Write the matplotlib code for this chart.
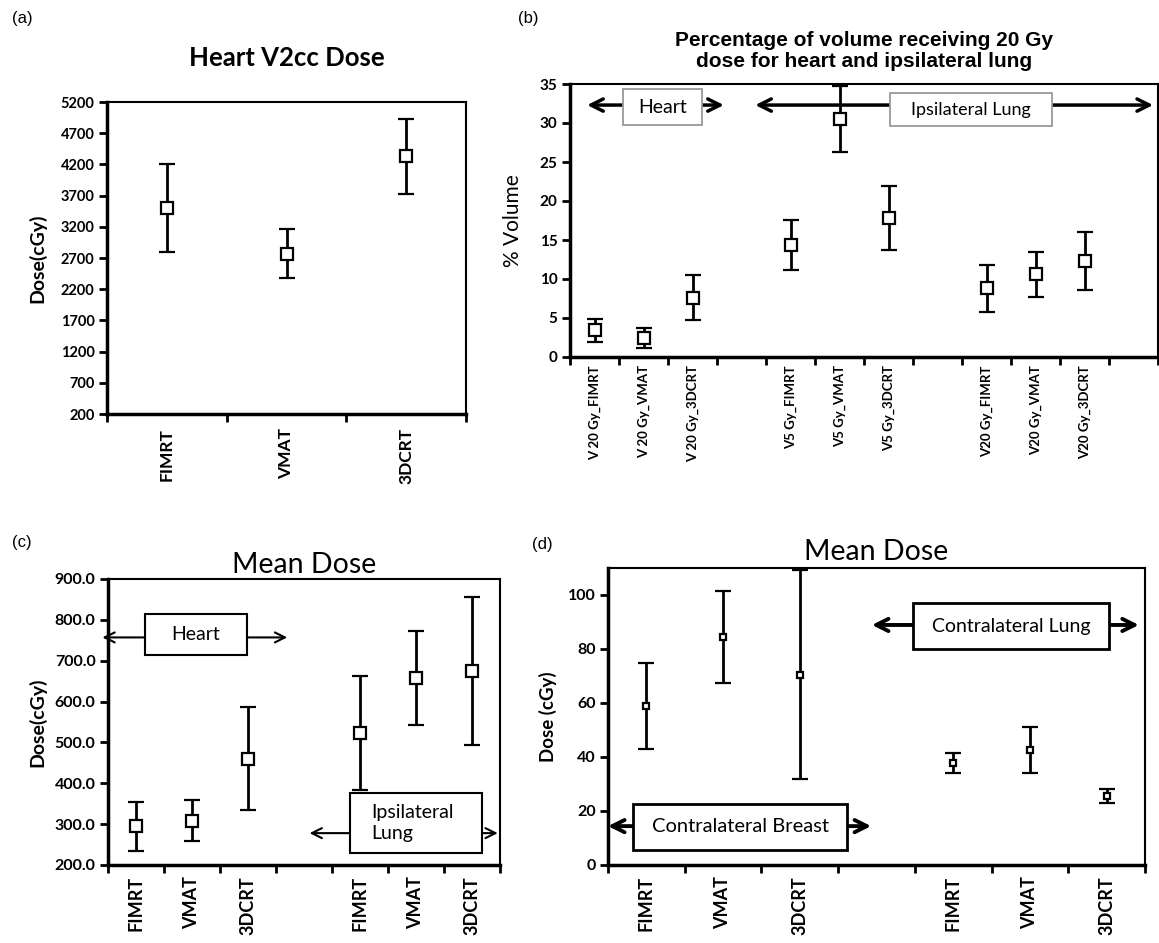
import numpy as np
import matplotlib
matplotlib.use('Agg')
import matplotlib.pyplot as plt
from matplotlib.patches import Rectangle

nan = np.nan

# (a) Heart V2cc dose
a_cats = ['FIMRT', 'VMAT', '3DCRT']
a_mean = [3500, 2770, 4330]
a_err = [700, 390, 605]

# (b) percentage volume
b_cats = ['V 20 Gy_FIMRT', 'V 20 Gy_VMAT', 'V 20 Gy_3DCRT', '',
          'V5 Gy_FIMRT', 'V5 Gy_VMAT', 'V5 Gy_3DCRT', '',
          'V20 Gy_FIMRT', 'V20 Gy_VMAT', 'V20 Gy_3DCRT', '']
b_mean = [3.4, 2.4, 7.6, nan, 14.3, 30.5, 17.8, nan, 8.8, 10.6, 12.3, nan]
b_err = [1.5, 1.3, 2.9, nan, 3.2, 4.2, 4.1, nan, 3.0, 2.9, 3.7, nan]

# (c) mean dose heart / ipsilateral lung
c_cats = ['FIMRT', 'VMAT', '3DCRT', '', 'FIMRT', 'VMAT', '3DCRT']
c_mean = [295, 308, 460, nan, 523, 657, 675]
c_err = [60, 50, 126, nan, 140, 115, 182]

# (d) mean dose contralateral breast / lung
d_cats = ['FIMRT', 'VMAT', '3DCRT', '', 'FIMRT', 'VMAT', '3DCRT']
d_mean = [59, 84.5, 70.5, nan, 37.7, 42.7, 25.6]
d_err = [16, 17, 38.8, nan, 3.6, 8.5, 2.6]

CAL = ['Lato', 'DejaVu Sans']
ARIAL = ['Liberation Sans', 'DejaVu Sans']

fig = plt.figure(figsize=(11.59, 9.43), dpi=100)


def setup(ax, cats, mean, err, ylim, yticks, yfmt, ms, xfs, yfs, xpad=8):
    n = len(cats)
    x = np.arange(n) + 0.5
    ax.errorbar(x, mean, yerr=err, fmt='s', color='black', mfc='white', mec='black',
                ms=ms, mew=1.6, ecolor='black', elinewidth=2, capsize=6, capthick=2.5,
                zorder=3, clip_on=False)
    ax.set_xlim(0, n)
    ax.set_ylim(*ylim)
    ax.set_xticks(np.arange(n + 1))
    ax.set_xticklabels([])
    ax.set_xticks(x, minor=True)
    ax.set_xticklabels(cats, minor=True, rotation=90, fontsize=xfs, family=CAL, fontweight='bold')
    ax.tick_params(axis='x', which='minor', length=0, pad=xpad)
    ax.tick_params(axis='x', which='major', length=6, width=2, direction='out')
    ax.set_yticks(yticks)
    ax.set_yticklabels([yfmt % v for v in yticks], fontsize=yfs, family=CAL, fontweight='bold')
    ax.tick_params(axis='y', length=6, width=2, direction='out', pad=3)
    for s in ['left', 'bottom']:
        ax.spines[s].set_linewidth(2.5)
    for s in ['top', 'right']:
        ax.spines[s].set_linewidth(1.5)


def span(ax, x0, x1, y, bx0, bx1, by0, by1, text, lw, ms, ec, elw, fs, ha='center', tx=None):
    ax.annotate('', xy=(x1, y), xytext=(x0, y), annotation_clip=False,
                arrowprops=dict(arrowstyle='<->', lw=lw, color='black',
                                mutation_scale=ms, shrinkA=0, shrinkB=0), zorder=4)
    ax.add_patch(Rectangle((bx0, by0), bx1 - bx0, by1 - by0, facecolor='white',
                           edgecolor=ec, lw=elw, zorder=5, clip_on=False))
    if tx is None:
        tx = (bx0 + bx1) / 2
    ax.text(tx, (by0 + by1) / 2, text, ha=ha, va='center', fontsize=fs,
            family=CAL, zorder=6, linespacing=1.3)


# (a)
ax = fig.add_axes([107/1159, 1-414/943, 359/1159, 312/943])
setup(ax, a_cats, a_mean, a_err, (200, 5200), list(range(200, 5201, 500)), '%d', 8.5, 12.5, 10.5, xpad=10)
ax.set_ylabel('Dose(cGy)', fontsize=14, family=CAL, fontweight='bold', labelpad=10)
ax.set_title('Heart V2cc Dose', fontsize=18.5, family=CAL, fontweight='bold', pad=26)

# (b)
ax = fig.add_axes([570/1159, 1-357/943, 588/1159, 273/943])
setup(ax, b_cats, b_mean, b_err, (0, 35), list(range(0, 36, 5)), '%d', 8, 9.5, 11, xpad=6)
ax.set_ylabel('% Volume', fontsize=15, family=CAL, labelpad=12)
ax.set_title('Percentage of volume receiving 20 Gy\ndose for heart and ipsilateral lung',
             fontsize=15, family=ARIAL, fontweight='bold', pad=12, linespacing=1.15)
span(ax, 0.35, 3.14, 32.3, 1.08, 2.69, 29.7, 34.3, 'Heart', 2.5, 22, '#999999', 1.3, 14)
span(ax, 3.78, 11.9, 32.3, 6.53, 9.84, 29.6, 33.8, 'Ipsilateral Lung', 2.5, 22, '#999999', 1.3, 13)

# (c)
ax = fig.add_axes([108/1159, 1-865/943, 392/1159, 286/943])
setup(ax, c_cats, c_mean, c_err, (200, 900), list(range(200, 901, 100)), '%.1f', 8.5, 13, 11.5)
ax.set_ylabel('Dose(cGy)', fontsize=14, family=CAL, fontweight='bold', labelpad=6)
ax.set_title('Mean Dose', fontsize=20.5, family=CAL, pad=4)
span(ax, -0.1, 3.2, 757, 0.66, 2.48, 713, 814, 'Heart', 1.5, 18, 'black', 1.5, 14)
span(ax, 3.6, 6.96, 278, 4.32, 6.68, 229, 376, 'Ipsilateral\nLung', 1.5, 18, 'black', 1.5, 14,
     ha='left', tx=4.7)

# (d)
ax = fig.add_axes([608/1159, 1-865/943, 537/1159, 297/943])
setup(ax, d_cats, d_mean, d_err, (0, 110), list(range(0, 101, 20)), '%d', 4.5, 13, 11.5)
ax.set_ylabel('Dose (cGy)', fontsize=13.5, family=CAL, fontweight='bold', labelpad=8)
ax.set_title('Mean Dose', fontsize=20.5, family=CAL, pad=6)
span(ax, 3.44, 6.92, 88.9, 3.98, 6.53, 80, 97, 'Contralateral Lung', 2.8, 22, 'black', 2, 14)
span(ax, 0.0, 3.43, 14.4, 0.33, 3.12, 5.6, 22.6, 'Contralateral Breast', 2.8, 22, 'black', 2, 14.5)

for lbl, px, py in [('(a)', 12, 18), ('(b)', 518, 18), ('(c)', 12, 542), ('(d)', 532, 544)]:
    fig.text(px/1159, 1-py/943, lbl, fontsize=12, family=ARIAL, va='center', ha='left')

fig.savefig('out.png', dpi=100)
